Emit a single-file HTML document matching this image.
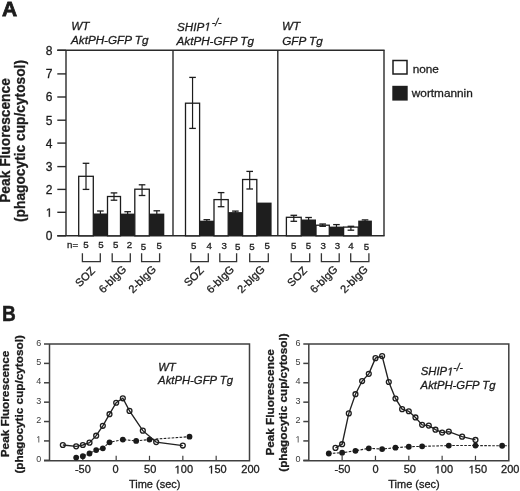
<!DOCTYPE html>
<html><head><meta charset="utf-8"><style>
html,body{margin:0;padding:0;background:#fff;}
svg{display:block;font-family:"Liberation Sans",sans-serif;filter:blur(0.3px);}
text{fill:#1c1c1c;stroke:#1c1c1c;stroke-width:0.3px;}
.ax{stroke:#2a2a2a;stroke-width:1.4;}
.axb{stroke:#404040;stroke-width:1.5;}
.one{fill:none!important;stroke:none!important;}
</style></head><body>
<svg width="520" height="491" viewBox="0 0 520 491">
<text x="2.0" y="16.0" font-weight="bold" font-size="21" style="stroke-width:0.8px">A</text>
<text transform="translate(10.4,140.5) rotate(-90)" text-anchor="middle" font-weight="bold" font-size="13.75">Peak Fluorescence</text>
<text transform="translate(25.4,141) rotate(-90)" text-anchor="middle" font-weight="bold" font-size="13.75">(phagocytic cup/cytosol)</text>
<line x1="57.3" y1="50.30" x2="66" y2="50.30" class="ax"/>
<text x="52.5" y="54.70" text-anchor="end" font-size="12">8</text>
<line x1="57.3" y1="73.90" x2="66" y2="73.90" class="ax"/>
<text x="52.5" y="78.30" text-anchor="end" font-size="12">7</text>
<line x1="57.3" y1="97.00" x2="66" y2="97.00" class="ax"/>
<text x="52.5" y="101.40" text-anchor="end" font-size="12">6</text>
<line x1="57.3" y1="120.20" x2="66" y2="120.20" class="ax"/>
<text x="52.5" y="124.60" text-anchor="end" font-size="12">5</text>
<line x1="57.3" y1="143.10" x2="66" y2="143.10" class="ax"/>
<text x="52.5" y="147.50" text-anchor="end" font-size="12">4</text>
<line x1="57.3" y1="166.60" x2="66" y2="166.60" class="ax"/>
<text x="52.5" y="171.00" text-anchor="end" font-size="12">3</text>
<line x1="57.3" y1="189.40" x2="66" y2="189.40" class="ax"/>
<text x="52.5" y="193.80" text-anchor="end" font-size="12">2</text>
<line x1="57.3" y1="212.30" x2="66" y2="212.30" class="ax"/>
<text x="52.5" y="216.70" text-anchor="end" font-size="12"><tspan class="one">1</tspan></text>
<line x1="57.3" y1="235.80" x2="66" y2="235.80" class="ax"/>
<text x="52.5" y="240.20" text-anchor="end" font-size="12">0</text>
<line x1="66" y1="50.3" x2="66" y2="235.8" class="ax"/>
<line x1="57.3" y1="50.3" x2="384.6" y2="50.3" class="ax"/>
<line x1="57.3" y1="235.8" x2="384.6" y2="235.8" class="ax"/>
<line x1="173.0" y1="50.3" x2="173.0" y2="235.8" class="ax"/>
<line x1="277.8" y1="50.3" x2="277.8" y2="235.8" class="ax"/>
<line x1="384.0" y1="50.3" x2="384.0" y2="235.8" class="ax"/>
<g font-style="italic" font-size="11.7">
<text x="71.3" y="29.6">WT</text><text x="71" y="44.4">AktPH-GFP Tg</text>
<text x="177" y="30.8">SHIP<tspan class="one">1</tspan><tspan font-size="10.5" dx="0.9" dy="-5.1">-/-</tspan></text><text x="176.5" y="44.8">AktPH-GFP Tg</text>
<text x="282" y="30">WT</text><text x="282.2" y="44.8">GFP Tg</text>
</g>
<rect x="393" y="60.5" width="14" height="13.5" fill="#fff" stroke="#1c1c1c" stroke-width="1.5"/>
<rect x="392.3" y="85.8" width="15.4" height="14.8" fill="#1e1e1e"/>
<text x="412.7" y="72.7" font-size="11.8">none</text>
<text x="411.8" y="96.9" font-size="11.8">wortmannin</text>
<rect x="78.70" y="176.30" width="14.60" height="59.50" fill="#fff" stroke="#1c1c1c" stroke-width="1.3"/>
<line x1="86.00" y1="163.30" x2="86.00" y2="189.40" stroke="#1c1c1c" stroke-width="1.2"/>
<line x1="82.70" y1="163.30" x2="89.30" y2="163.30" stroke="#1c1c1c" stroke-width="1.3"/>
<line x1="82.70" y1="189.40" x2="89.30" y2="189.40" stroke="#1c1c1c" stroke-width="1.3"/>
<rect x="93.30" y="213.50" width="14.20" height="22.30" fill="#1e1e1e"/>
<line x1="100.40" y1="211.00" x2="100.40" y2="214.10" stroke="#1c1c1c" stroke-width="1.2"/>
<line x1="97.10" y1="211.00" x2="103.70" y2="211.00" stroke="#1c1c1c" stroke-width="1.3"/>
<rect x="107.50" y="196.50" width="13.00" height="39.30" fill="#fff" stroke="#1c1c1c" stroke-width="1.3"/>
<line x1="114.00" y1="192.90" x2="114.00" y2="200.20" stroke="#1c1c1c" stroke-width="1.2"/>
<line x1="110.70" y1="192.90" x2="117.30" y2="192.90" stroke="#1c1c1c" stroke-width="1.3"/>
<line x1="110.70" y1="200.20" x2="117.30" y2="200.20" stroke="#1c1c1c" stroke-width="1.3"/>
<rect x="120.50" y="213.60" width="14.30" height="22.20" fill="#1e1e1e"/>
<line x1="127.65" y1="211.70" x2="127.65" y2="214.20" stroke="#1c1c1c" stroke-width="1.2"/>
<line x1="124.35" y1="211.70" x2="130.95" y2="211.70" stroke="#1c1c1c" stroke-width="1.3"/>
<rect x="134.80" y="189.20" width="14.50" height="46.60" fill="#fff" stroke="#1c1c1c" stroke-width="1.3"/>
<line x1="142.05" y1="184.80" x2="142.05" y2="195.50" stroke="#1c1c1c" stroke-width="1.2"/>
<line x1="138.75" y1="184.80" x2="145.35" y2="184.80" stroke="#1c1c1c" stroke-width="1.3"/>
<line x1="138.75" y1="195.50" x2="145.35" y2="195.50" stroke="#1c1c1c" stroke-width="1.3"/>
<rect x="149.30" y="213.60" width="15.00" height="22.20" fill="#1e1e1e"/>
<line x1="156.80" y1="210.80" x2="156.80" y2="214.20" stroke="#1c1c1c" stroke-width="1.2"/>
<line x1="153.50" y1="210.80" x2="160.10" y2="210.80" stroke="#1c1c1c" stroke-width="1.3"/>
<rect x="185.50" y="103.20" width="14.10" height="132.60" fill="#fff" stroke="#1c1c1c" stroke-width="1.3"/>
<line x1="192.55" y1="77.40" x2="192.55" y2="128.40" stroke="#1c1c1c" stroke-width="1.2"/>
<line x1="189.25" y1="77.40" x2="195.85" y2="77.40" stroke="#1c1c1c" stroke-width="1.3"/>
<line x1="189.25" y1="128.40" x2="195.85" y2="128.40" stroke="#1c1c1c" stroke-width="1.3"/>
<rect x="199.60" y="220.70" width="14.40" height="15.10" fill="#1e1e1e"/>
<line x1="206.80" y1="219.70" x2="206.80" y2="221.30" stroke="#1c1c1c" stroke-width="1.2"/>
<line x1="203.50" y1="219.70" x2="210.10" y2="219.70" stroke="#1c1c1c" stroke-width="1.3"/>
<rect x="214.00" y="199.60" width="14.20" height="36.20" fill="#fff" stroke="#1c1c1c" stroke-width="1.3"/>
<line x1="221.10" y1="192.60" x2="221.10" y2="206.70" stroke="#1c1c1c" stroke-width="1.2"/>
<line x1="217.80" y1="192.60" x2="224.40" y2="192.60" stroke="#1c1c1c" stroke-width="1.3"/>
<line x1="217.80" y1="206.70" x2="224.40" y2="206.70" stroke="#1c1c1c" stroke-width="1.3"/>
<rect x="228.20" y="212.10" width="14.40" height="23.70" fill="#1e1e1e"/>
<line x1="235.40" y1="211.10" x2="235.40" y2="212.70" stroke="#1c1c1c" stroke-width="1.2"/>
<line x1="232.10" y1="211.10" x2="238.70" y2="211.10" stroke="#1c1c1c" stroke-width="1.3"/>
<rect x="242.60" y="179.50" width="14.20" height="56.30" fill="#fff" stroke="#1c1c1c" stroke-width="1.3"/>
<line x1="249.70" y1="171.40" x2="249.70" y2="189.00" stroke="#1c1c1c" stroke-width="1.2"/>
<line x1="246.40" y1="171.40" x2="253.00" y2="171.40" stroke="#1c1c1c" stroke-width="1.3"/>
<line x1="246.40" y1="189.00" x2="253.00" y2="189.00" stroke="#1c1c1c" stroke-width="1.3"/>
<rect x="256.80" y="202.60" width="14.80" height="33.20" fill="#1e1e1e"/>
<rect x="286.40" y="217.30" width="14.80" height="18.50" fill="#fff" stroke="#1c1c1c" stroke-width="1.3"/>
<line x1="293.80" y1="215.30" x2="293.80" y2="221.30" stroke="#1c1c1c" stroke-width="1.2"/>
<line x1="290.50" y1="215.30" x2="297.10" y2="215.30" stroke="#1c1c1c" stroke-width="1.3"/>
<line x1="290.50" y1="221.30" x2="297.10" y2="221.30" stroke="#1c1c1c" stroke-width="1.3"/>
<rect x="301.20" y="219.50" width="14.80" height="16.30" fill="#1e1e1e"/>
<line x1="308.60" y1="217.50" x2="308.60" y2="220.10" stroke="#1c1c1c" stroke-width="1.2"/>
<line x1="305.30" y1="217.50" x2="311.90" y2="217.50" stroke="#1c1c1c" stroke-width="1.3"/>
<rect x="316.00" y="225.20" width="13.30" height="10.60" fill="#fff" stroke="#1c1c1c" stroke-width="1.3"/>
<line x1="322.65" y1="224.00" x2="322.65" y2="226.30" stroke="#1c1c1c" stroke-width="1.2"/>
<line x1="319.35" y1="224.00" x2="325.95" y2="224.00" stroke="#1c1c1c" stroke-width="1.3"/>
<line x1="319.35" y1="226.30" x2="325.95" y2="226.30" stroke="#1c1c1c" stroke-width="1.3"/>
<rect x="329.30" y="226.60" width="14.30" height="9.20" fill="#1e1e1e"/>
<line x1="336.45" y1="224.60" x2="336.45" y2="227.20" stroke="#1c1c1c" stroke-width="1.2"/>
<line x1="333.15" y1="224.60" x2="339.75" y2="224.60" stroke="#1c1c1c" stroke-width="1.3"/>
<rect x="343.60" y="227.10" width="14.60" height="8.70" fill="#fff" stroke="#1c1c1c" stroke-width="1.3"/>
<line x1="350.90" y1="226.30" x2="350.90" y2="230.20" stroke="#1c1c1c" stroke-width="1.2"/>
<line x1="347.60" y1="226.30" x2="354.20" y2="226.30" stroke="#1c1c1c" stroke-width="1.3"/>
<line x1="347.60" y1="230.20" x2="354.20" y2="230.20" stroke="#1c1c1c" stroke-width="1.3"/>
<rect x="358.20" y="220.60" width="13.70" height="15.20" fill="#1e1e1e"/>
<line x1="365.05" y1="219.90" x2="365.05" y2="221.20" stroke="#1c1c1c" stroke-width="1.2"/>
<line x1="361.75" y1="219.90" x2="368.35" y2="219.90" stroke="#1c1c1c" stroke-width="1.3"/>
<text x="67" y="247.6" font-size="9.7">n=</text>
<text x="85.90" y="248.4" font-size="9.7" text-anchor="middle">5</text>
<text x="100.90" y="248.4" font-size="9.7" text-anchor="middle">5</text>
<text x="115.60" y="248.0" font-size="9.7" text-anchor="middle">5</text>
<text x="129.50" y="248.2" font-size="9.7" text-anchor="middle">2</text>
<text x="143.50" y="249.5" font-size="9.7" text-anchor="middle">5</text>
<text x="159.10" y="248.8" font-size="9.7" text-anchor="middle">5</text>
<text x="193.60" y="248.8" font-size="9.7" text-anchor="middle">5</text>
<text x="209.10" y="248.8" font-size="9.7" text-anchor="middle">4</text>
<text x="224.10" y="248.8" font-size="9.7" text-anchor="middle">3</text>
<text x="237.80" y="249.6" font-size="9.7" text-anchor="middle">5</text>
<text x="252.00" y="249.6" font-size="9.7" text-anchor="middle">5</text>
<text x="267.20" y="248.5" font-size="9.7" text-anchor="middle">5</text>
<text x="293.60" y="249.2" font-size="9.7" text-anchor="middle">5</text>
<text x="308.50" y="248.9" font-size="9.7" text-anchor="middle">5</text>
<text x="323.20" y="248.6" font-size="9.7" text-anchor="middle">3</text>
<text x="337.40" y="248.6" font-size="9.7" text-anchor="middle">3</text>
<text x="351.00" y="248.6" font-size="9.7" text-anchor="middle">4</text>
<text x="366.40" y="249.6" font-size="9.7" text-anchor="middle">5</text>
<path d="M82.4 253.2 V261.7 H100.3 V253.2" fill="none" stroke="#333" stroke-width="1.3"/>
<path d="M112.2 253.2 V261.7 H130.3 V253.2" fill="none" stroke="#333" stroke-width="1.3"/>
<path d="M141.6 253.2 V261.7 H159.6 V253.2" fill="none" stroke="#333" stroke-width="1.3"/>
<path d="M190.8 253.2 V261.7 H208.3 V253.2" fill="none" stroke="#333" stroke-width="1.3"/>
<path d="M219.8 253.2 V261.7 H236.6 V253.2" fill="none" stroke="#333" stroke-width="1.3"/>
<path d="M249.7 253.2 V261.7 H268.3 V253.2" fill="none" stroke="#333" stroke-width="1.3"/>
<path d="M291.2 253.2 V261.7 H309.7 V253.2" fill="none" stroke="#333" stroke-width="1.3"/>
<path d="M321.4 253.2 V261.7 H339.2 V253.2" fill="none" stroke="#333" stroke-width="1.3"/>
<path d="M350.7 253.2 V261.7 H368.9 V253.2" fill="none" stroke="#333" stroke-width="1.3"/>
<text transform="translate(95.75,271.4) rotate(-45)" text-anchor="end" font-size="11">SOZ</text>
<text transform="translate(126.95,270.0) rotate(-45)" text-anchor="end" font-size="11">6-bIgG</text>
<text transform="translate(156.70,270.0) rotate(-45)" text-anchor="end" font-size="11">2-bIgG</text>
<text transform="translate(204.55,271.09999999999997) rotate(-45)" text-anchor="end" font-size="11">SOZ</text>
<text transform="translate(234.90,270.09999999999997) rotate(-45)" text-anchor="end" font-size="11">6-bIgG</text>
<text transform="translate(265.50,270.0) rotate(-45)" text-anchor="end" font-size="11">2-bIgG</text>
<text transform="translate(307.85,271.29999999999995) rotate(-45)" text-anchor="end" font-size="11">SOZ</text>
<text transform="translate(338.30,270.0) rotate(-45)" text-anchor="end" font-size="11">6-bIgG</text>
<text transform="translate(368.60,270.0) rotate(-45)" text-anchor="end" font-size="11">2-bIgG</text>
<text transform="translate(2.0,321.2) scale(0.9,1)" font-weight="bold" font-size="21.2" style="stroke-width:0.5px">B</text>
<text transform="translate(9.30,404) rotate(-90)" text-anchor="middle" font-weight="bold" font-size="11.75">Peak Fluorescence</text>
<text transform="translate(22.50,404.4) rotate(-90)" text-anchor="middle" font-weight="bold" font-size="11.75">(phagocytic cup/cytosol)</text>
<path d="M44.0 344.02 H249.5 V460.8 H44.0" fill="none" class="axb"/>
<line x1="49.5" y1="344.02" x2="49.5" y2="460.8" class="axb"/>
<line x1="44.0" y1="460.30" x2="49.5" y2="460.30" class="axb"/>
<line x1="44.0" y1="440.92" x2="49.5" y2="440.92" class="axb"/>
<line x1="44.0" y1="421.54" x2="49.5" y2="421.54" class="axb"/>
<line x1="44.0" y1="402.16" x2="49.5" y2="402.16" class="axb"/>
<line x1="44.0" y1="382.78" x2="49.5" y2="382.78" class="axb"/>
<line x1="44.0" y1="363.40" x2="49.5" y2="363.40" class="axb"/>
<text x="41.20" y="461.90" text-anchor="end" font-size="9" style="fill:#3a3a3a;stroke:none">0</text>
<text x="41.20" y="442.52" text-anchor="end" font-size="9" style="fill:#3a3a3a;stroke:none"><tspan class="one">1</tspan></text>
<text x="41.20" y="423.14" text-anchor="end" font-size="9" style="fill:#3a3a3a;stroke:none">2</text>
<text x="41.20" y="403.76" text-anchor="end" font-size="9" style="fill:#3a3a3a;stroke:none">3</text>
<text x="41.20" y="384.38" text-anchor="end" font-size="9" style="fill:#3a3a3a;stroke:none">4</text>
<text x="41.20" y="365.00" text-anchor="end" font-size="9" style="fill:#3a3a3a;stroke:none">5</text>
<text x="41.20" y="345.62" text-anchor="end" font-size="9" style="fill:#3a3a3a;stroke:none">6</text>
<line x1="82.83" y1="460.8" x2="82.83" y2="455.80" class="axb" style="stroke-width:1.2"/>
<line x1="116.17" y1="460.8" x2="116.17" y2="455.80" class="axb" style="stroke-width:1.2"/>
<line x1="149.50" y1="460.8" x2="149.50" y2="455.80" class="axb" style="stroke-width:1.2"/>
<line x1="182.83" y1="460.8" x2="182.83" y2="455.80" class="axb" style="stroke-width:1.2"/>
<line x1="216.17" y1="460.8" x2="216.17" y2="455.80" class="axb" style="stroke-width:1.2"/>
<text x="82.83" y="473.4" text-anchor="middle" font-size="11">-50</text>
<text x="115.67" y="473.4" text-anchor="middle" font-size="11">0</text>
<text x="150.20" y="473.4" text-anchor="middle" font-size="11">50</text>
<text x="183.83" y="473.4" text-anchor="middle" font-size="11"><tspan class="one">1</tspan>00</text>
<text x="217.47" y="473.4" text-anchor="middle" font-size="11"><tspan class="one">1</tspan>50</text>
<text x="250.50" y="473.4" text-anchor="middle" font-size="11">200</text>
<text x="154.70" y="487.8" text-anchor="middle" font-size="11">Time (sec)</text>
<g font-style="italic" font-size="11.3"><text x="158.2" y="370.7">WT</text><text x="158.1" y="384.4">AktPH-GFP Tg</text></g>
<polyline points="76.17,457.59 82.83,456.23 89.50,453.52 96.17,450.03 102.83,448.28 109.50,442.28 122.83,439.56 136.17,440.92 149.50,439.56 189.50,436.66" fill="none" stroke="#222" stroke-width="1.1" stroke-dasharray="2.6,1.4"/>
<circle cx="76.17" cy="457.59" r="2.9" fill="#1a1a1a"/>
<circle cx="82.83" cy="456.23" r="2.9" fill="#1a1a1a"/>
<circle cx="89.50" cy="453.52" r="2.9" fill="#1a1a1a"/>
<circle cx="96.17" cy="450.03" r="2.9" fill="#1a1a1a"/>
<circle cx="102.83" cy="448.28" r="2.9" fill="#1a1a1a"/>
<circle cx="109.50" cy="442.28" r="2.9" fill="#1a1a1a"/>
<circle cx="122.83" cy="439.56" r="2.9" fill="#1a1a1a"/>
<circle cx="136.17" cy="440.92" r="2.9" fill="#1a1a1a"/>
<circle cx="149.50" cy="439.56" r="2.9" fill="#1a1a1a"/>
<circle cx="189.50" cy="436.66" r="2.9" fill="#1a1a1a"/>
<polyline points="62.83,444.99 76.17,446.35 82.83,444.99 89.50,442.66 96.17,435.69 102.83,425.80 109.50,414.18 116.17,402.74 122.83,398.28 129.50,410.88 142.83,430.65 156.17,442.08 182.83,445.57" fill="none" stroke="#222" stroke-width="1.35"/>
<circle cx="62.83" cy="444.99" r="2.45" fill="none" stroke="#1e1e1e" stroke-width="1.3"/>
<circle cx="76.17" cy="446.35" r="2.45" fill="none" stroke="#1e1e1e" stroke-width="1.3"/>
<circle cx="82.83" cy="444.99" r="2.45" fill="none" stroke="#1e1e1e" stroke-width="1.3"/>
<circle cx="89.50" cy="442.66" r="2.45" fill="none" stroke="#1e1e1e" stroke-width="1.3"/>
<circle cx="96.17" cy="435.69" r="2.45" fill="none" stroke="#1e1e1e" stroke-width="1.3"/>
<circle cx="102.83" cy="425.80" r="2.45" fill="none" stroke="#1e1e1e" stroke-width="1.3"/>
<circle cx="109.50" cy="414.18" r="2.45" fill="none" stroke="#1e1e1e" stroke-width="1.3"/>
<circle cx="116.17" cy="402.74" r="2.45" fill="none" stroke="#1e1e1e" stroke-width="1.3"/>
<circle cx="122.83" cy="398.28" r="2.45" fill="none" stroke="#1e1e1e" stroke-width="1.3"/>
<circle cx="129.50" cy="410.88" r="2.45" fill="none" stroke="#1e1e1e" stroke-width="1.3"/>
<circle cx="142.83" cy="430.65" r="2.45" fill="none" stroke="#1e1e1e" stroke-width="1.3"/>
<circle cx="156.17" cy="442.08" r="2.45" fill="none" stroke="#1e1e1e" stroke-width="1.3"/>
<circle cx="182.83" cy="445.57" r="2.45" fill="none" stroke="#1e1e1e" stroke-width="1.3"/>
<text transform="translate(273.80,402.35) rotate(-90)" text-anchor="middle" font-weight="bold" font-size="11.75">Peak Fluorescence</text>
<text transform="translate(286.80,402.55) rotate(-90)" text-anchor="middle" font-weight="bold" font-size="11.75">(phagocytic cup/cytosol)</text>
<path d="M303.3 344.02 H508.8 V460.8 H303.3" fill="none" class="axb"/>
<line x1="308.8" y1="344.02" x2="308.8" y2="460.8" class="axb"/>
<line x1="303.3" y1="460.30" x2="308.8" y2="460.30" class="axb"/>
<line x1="303.3" y1="440.92" x2="308.8" y2="440.92" class="axb"/>
<line x1="303.3" y1="421.54" x2="308.8" y2="421.54" class="axb"/>
<line x1="303.3" y1="402.16" x2="308.8" y2="402.16" class="axb"/>
<line x1="303.3" y1="382.78" x2="308.8" y2="382.78" class="axb"/>
<line x1="303.3" y1="363.40" x2="308.8" y2="363.40" class="axb"/>
<text x="300.50" y="461.90" text-anchor="end" font-size="9" style="fill:#3a3a3a;stroke:none">0</text>
<text x="300.50" y="442.52" text-anchor="end" font-size="9" style="fill:#3a3a3a;stroke:none"><tspan class="one">1</tspan></text>
<text x="300.50" y="423.14" text-anchor="end" font-size="9" style="fill:#3a3a3a;stroke:none">2</text>
<text x="300.50" y="403.76" text-anchor="end" font-size="9" style="fill:#3a3a3a;stroke:none">3</text>
<text x="300.50" y="384.38" text-anchor="end" font-size="9" style="fill:#3a3a3a;stroke:none">4</text>
<text x="300.50" y="365.00" text-anchor="end" font-size="9" style="fill:#3a3a3a;stroke:none">5</text>
<text x="300.50" y="345.62" text-anchor="end" font-size="9" style="fill:#3a3a3a;stroke:none">6</text>
<line x1="342.13" y1="460.8" x2="342.13" y2="455.80" class="axb" style="stroke-width:1.2"/>
<line x1="375.47" y1="460.8" x2="375.47" y2="455.80" class="axb" style="stroke-width:1.2"/>
<line x1="408.80" y1="460.8" x2="408.80" y2="455.80" class="axb" style="stroke-width:1.2"/>
<line x1="442.13" y1="460.8" x2="442.13" y2="455.80" class="axb" style="stroke-width:1.2"/>
<line x1="475.47" y1="460.8" x2="475.47" y2="455.80" class="axb" style="stroke-width:1.2"/>
<text x="342.43" y="473.4" text-anchor="middle" font-size="11">-50</text>
<text x="375.47" y="473.4" text-anchor="middle" font-size="11">0</text>
<text x="409.80" y="473.4" text-anchor="middle" font-size="11">50</text>
<text x="443.93" y="473.4" text-anchor="middle" font-size="11"><tspan class="one">1</tspan>00</text>
<text x="477.87" y="473.4" text-anchor="middle" font-size="11"><tspan class="one">1</tspan>50</text>
<text x="510.30" y="473.4" text-anchor="middle" font-size="11">200</text>
<text x="414.00" y="487.8" text-anchor="middle" font-size="11">Time (sec)</text>
<g font-style="italic" font-size="11.3"><text x="420.7" y="375.4">SHIP<tspan class="one">1</tspan><tspan font-size="10" dy="-4">-/-</tspan></text><text x="420.6" y="389.4">AktPH-GFP Tg</text></g>
<polyline points="328.80,453.52 342.13,452.74 355.47,450.80 368.80,448.28 382.13,449.06 395.47,447.70 408.80,446.73 422.13,446.35 448.80,445.57 475.47,445.57 502.13,445.76 508.80,445.76" fill="none" stroke="#222" stroke-width="1.1" stroke-dasharray="2.6,1.4"/>
<circle cx="328.80" cy="453.52" r="2.9" fill="#1a1a1a"/>
<circle cx="342.13" cy="452.74" r="2.9" fill="#1a1a1a"/>
<circle cx="355.47" cy="450.80" r="2.9" fill="#1a1a1a"/>
<circle cx="368.80" cy="448.28" r="2.9" fill="#1a1a1a"/>
<circle cx="382.13" cy="449.06" r="2.9" fill="#1a1a1a"/>
<circle cx="395.47" cy="447.70" r="2.9" fill="#1a1a1a"/>
<circle cx="408.80" cy="446.73" r="2.9" fill="#1a1a1a"/>
<circle cx="422.13" cy="446.35" r="2.9" fill="#1a1a1a"/>
<circle cx="448.80" cy="445.57" r="2.9" fill="#1a1a1a"/>
<circle cx="475.47" cy="445.57" r="2.9" fill="#1a1a1a"/>
<circle cx="502.13" cy="445.76" r="2.9" fill="#1a1a1a"/>
<polyline points="335.47,447.90 342.13,444.21 348.80,413.40 355.47,394.21 362.13,381.04 368.80,373.87 375.47,358.17 382.13,356.04 388.80,382.00 395.47,398.48 402.13,409.14 408.80,411.27 415.47,417.47 422.13,424.83 428.80,425.61 435.47,429.68 442.13,432.59 448.80,431.62 462.13,436.66 475.47,439.95" fill="none" stroke="#222" stroke-width="1.35"/>
<circle cx="335.47" cy="447.90" r="2.45" fill="none" stroke="#1e1e1e" stroke-width="1.3"/>
<circle cx="342.13" cy="444.21" r="2.45" fill="none" stroke="#1e1e1e" stroke-width="1.3"/>
<circle cx="348.80" cy="413.40" r="2.45" fill="none" stroke="#1e1e1e" stroke-width="1.3"/>
<circle cx="355.47" cy="394.21" r="2.45" fill="none" stroke="#1e1e1e" stroke-width="1.3"/>
<circle cx="362.13" cy="381.04" r="2.45" fill="none" stroke="#1e1e1e" stroke-width="1.3"/>
<circle cx="368.80" cy="373.87" r="2.45" fill="none" stroke="#1e1e1e" stroke-width="1.3"/>
<circle cx="375.47" cy="358.17" r="2.45" fill="none" stroke="#1e1e1e" stroke-width="1.3"/>
<circle cx="382.13" cy="356.04" r="2.45" fill="none" stroke="#1e1e1e" stroke-width="1.3"/>
<circle cx="388.80" cy="382.00" r="2.45" fill="none" stroke="#1e1e1e" stroke-width="1.3"/>
<circle cx="395.47" cy="398.48" r="2.45" fill="none" stroke="#1e1e1e" stroke-width="1.3"/>
<circle cx="402.13" cy="409.14" r="2.45" fill="none" stroke="#1e1e1e" stroke-width="1.3"/>
<circle cx="408.80" cy="411.27" r="2.45" fill="none" stroke="#1e1e1e" stroke-width="1.3"/>
<circle cx="415.47" cy="417.47" r="2.45" fill="none" stroke="#1e1e1e" stroke-width="1.3"/>
<circle cx="422.13" cy="424.83" r="2.45" fill="none" stroke="#1e1e1e" stroke-width="1.3"/>
<circle cx="428.80" cy="425.61" r="2.45" fill="none" stroke="#1e1e1e" stroke-width="1.3"/>
<circle cx="435.47" cy="429.68" r="2.45" fill="none" stroke="#1e1e1e" stroke-width="1.3"/>
<circle cx="442.13" cy="432.59" r="2.45" fill="none" stroke="#1e1e1e" stroke-width="1.3"/>
<circle cx="448.80" cy="431.62" r="2.45" fill="none" stroke="#1e1e1e" stroke-width="1.3"/>
<circle cx="462.13" cy="436.66" r="2.45" fill="none" stroke="#1e1e1e" stroke-width="1.3"/>
<circle cx="475.47" cy="439.95" r="2.45" fill="none" stroke="#1e1e1e" stroke-width="1.3"/>
<path transform="translate(45.81,216.70) scale(0.005859,-0.005859)" d="M515 0H696V1409H530L197 1180V1010L515 1237Z" style="fill:rgb(28, 28, 28);stroke:rgb(28, 28, 28);stroke-width:0.3px" vector-effect="non-scaling-stroke"/>
<path transform="translate(204.28,30.80) scale(0.005713,-0.005713)" d="M412 0L650 1223L289 1000L324 1180L701 1409H867L593 0Z" style="fill:rgb(28, 28, 28);stroke:rgb(28, 28, 28);stroke-width:0.3px" vector-effect="non-scaling-stroke"/>
<path transform="translate(36.18,442.52) scale(0.004395,-0.004395)" d="M515 0H696V1409H530L197 1180V1010L515 1237Z" style="fill:rgb(58, 58, 58);stroke:none;stroke-width:0.3px" vector-effect="non-scaling-stroke"/>
<path transform="translate(174.64,473.40) scale(0.005371,-0.005371)" d="M515 0H696V1409H530L197 1180V1010L515 1237Z" style="fill:rgb(28, 28, 28);stroke:rgb(28, 28, 28);stroke-width:0.3px" vector-effect="non-scaling-stroke"/>
<path transform="translate(208.28,473.40) scale(0.005371,-0.005371)" d="M515 0H696V1409H530L197 1180V1010L515 1237Z" style="fill:rgb(28, 28, 28);stroke:rgb(28, 28, 28);stroke-width:0.3px" vector-effect="non-scaling-stroke"/>
<path transform="translate(295.48,442.52) scale(0.004395,-0.004395)" d="M515 0H696V1409H530L197 1180V1010L515 1237Z" style="fill:rgb(58, 58, 58);stroke:none;stroke-width:0.3px" vector-effect="non-scaling-stroke"/>
<path transform="translate(434.74,473.40) scale(0.005371,-0.005371)" d="M515 0H696V1409H530L197 1180V1010L515 1237Z" style="fill:rgb(28, 28, 28);stroke:rgb(28, 28, 28);stroke-width:0.3px" vector-effect="non-scaling-stroke"/>
<path transform="translate(468.68,473.40) scale(0.005371,-0.005371)" d="M515 0H696V1409H530L197 1180V1010L515 1237Z" style="fill:rgb(28, 28, 28);stroke:rgb(28, 28, 28);stroke-width:0.3px" vector-effect="non-scaling-stroke"/>
<path transform="translate(447.08,375.40) scale(0.005518,-0.005518)" d="M412 0L650 1223L289 1000L324 1180L701 1409H867L593 0Z" style="fill:rgb(28, 28, 28);stroke:rgb(28, 28, 28);stroke-width:0.3px" vector-effect="non-scaling-stroke"/>
</svg>
</body></html>
